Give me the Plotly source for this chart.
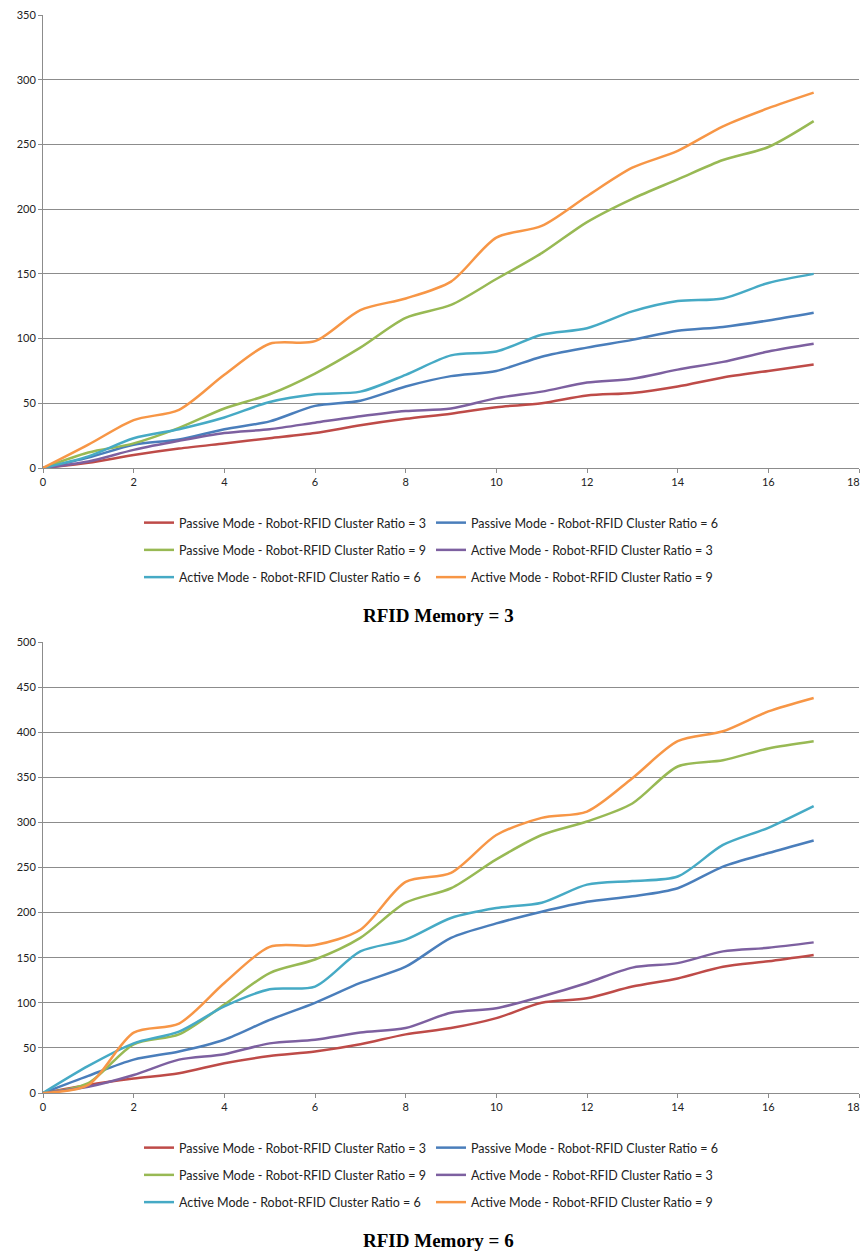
import plotly.graph_objects as go

# ---------------- data ----------------
x_vals = list(range(18))
x_tick_vals = [0, 2, 4, 6, 8, 10, 12, 14, 16, 18]
x_tick_text = ["0", "2", "4", "6", "8", "10", "12", "14", "16", "18&nbsp;&nbsp;&nbsp;&nbsp;"]

series_names = [
    "Passive Mode - Robot-RFID Cluster Ratio = 3",
    "Passive Mode - Robot-RFID Cluster Ratio = 6",
    "Passive Mode - Robot-RFID Cluster Ratio = 9",
    "Active Mode - Robot-RFID Cluster Ratio = 3",
    "Active Mode - Robot-RFID Cluster Ratio = 6",
    "Active Mode - Robot-RFID Cluster Ratio = 9",
]
series_colors = ["#BE4B48", "#4A7EBB", "#98B954", "#7D60A0", "#46AAC5", "#F79646"]

chart_titles = ["RFID Memory = 3", "RFID Memory = 6"]

# RFID Memory = 3
mem3_passive_3 = [0, 4, 10, 15, 19, 23, 27, 33, 38, 42, 47, 50, 56, 58, 63, 70, 75, 80]
mem3_passive_6 = [0, 8, 18, 22, 30, 36, 48, 52, 63, 71, 75, 86, 93, 99, 106, 109, 114, 120]
mem3_passive_9 = [0, 12, 19, 31, 46, 57, 73, 93, 116, 126, 146, 166, 190, 208, 223, 238, 248, 268]
mem3_active_3 = [0, 5, 14, 21, 27, 30, 35, 40, 44, 46, 54, 59, 66, 69, 76, 82, 90, 96]
mem3_active_6 = [0, 9, 23, 30, 39, 51, 57, 59, 72, 87, 90, 103, 108, 121, 129, 131, 143, 150]
mem3_active_9 = [0, 18, 37, 45, 72, 96, 98, 122, 131, 144, 178, 187, 210, 232, 245, 264, 278, 290]

# RFID Memory = 6
mem6_passive_3 = [0, 9, 16, 22, 33, 41, 46, 54, 65, 72, 83, 100, 105, 118, 127, 140, 146, 153]
mem6_passive_6 = [0, 19, 37, 46, 59, 81, 100, 122, 140, 172, 188, 201, 212, 218, 227, 251, 266, 280]
mem6_passive_9 = [0, 11, 54, 65, 98, 133, 148, 172, 211, 227, 259, 286, 301, 321, 362, 369, 382, 390]
mem6_active_3 = [0, 7, 20, 37, 43, 55, 59, 67, 72, 89, 94, 107, 122, 139, 144, 157, 161, 167]
mem6_active_6 = [0, 30, 55, 68, 96, 115, 118, 157, 170, 194, 205, 211, 231, 235, 240, 275, 294, 318]
mem6_active_9 = [0, 9, 67, 77, 122, 162, 164, 181, 234, 244, 286, 305, 312, 349, 390, 401, 423, 438]

charts = [
    [mem3_passive_3, mem3_passive_6, mem3_passive_9, mem3_active_3, mem3_active_6, mem3_active_9],
    [mem6_passive_3, mem6_passive_6, mem6_passive_9, mem6_active_3, mem6_active_6, mem6_active_9],
]
y_max = [350, 500]

# ---------------- layout helpers ----------------
PAGE_W, PAGE_H = 868, 1253
BODY_MARGIN = 8  # default page margin before the figure div
W, H = PAGE_W - BODY_MARGIN, PAGE_H - BODY_MARGIN

def px_x(p):  # page pixel -> paper x
    return (p - BODY_MARGIN) / W

def px_y(p):  # page pixel -> paper y
    return 1 - (p - BODY_MARGIN) / H

TICK_FONT = dict(family="Lato, Open Sans, sans-serif", size=11, color="#222222")
LEG_FONT = dict(family="Lato, Open Sans, sans-serif", size=12.5, color="#222222")
GRID = "#8C8C8C"

plot_left, plot_right = 43, 859
plot_rows = [(15, 468), (642, 1093)]
legend_tops = [508, 1133]
title_y = [615, 1240]

fig = go.Figure()

for c, data in enumerate(charts):
    xa = "x" if c == 0 else "x2"
    ya = "y" if c == 0 else "y2"
    for i, vals in enumerate(data):
        leg_idx = 2 * c + (i % 2) + 1
        leg = "legend" if leg_idx == 1 else f"legend{leg_idx}"
        fig.add_trace(go.Scatter(
            x=x_vals, y=vals, mode="lines", name=series_names[i],
            line=dict(color=series_colors[i], width=2.5, shape="spline", smoothing=0.8),
            xaxis=xa, yaxis=ya, legend=leg, legendgroup=f"c{c}s{i}",
            showlegend=True,
        ))

axis_common_x = dict(
    range=[0, 18], tickmode="array", tickvals=x_tick_vals, ticktext=x_tick_text,
    showgrid=False, zeroline=False,
    showline=True, linecolor=GRID, linewidth=1, ticks="outside", ticklen=4,
    tickcolor=GRID, tickfont=TICK_FONT, fixedrange=True, automargin=False,
    ticklabeloverflow="allow",
)
axis_common_y = dict(
    dtick=50, tick0=0, showgrid=True, gridcolor=GRID, gridwidth=1, zeroline=False,
    showline=True, linecolor=GRID, linewidth=1, ticks="outside", ticklen=4,
    tickcolor=GRID, tickfont=TICK_FONT, fixedrange=True, automargin=False,
    ticklabeloverflow="allow",
)

layout = dict(
    width=W, height=H, margin=dict(l=0, r=0, t=0, b=0, autoexpand=False),
    paper_bgcolor="white", plot_bgcolor="white",
    xaxis=dict(domain=[px_x(plot_left), px_x(plot_right)], anchor="y", **axis_common_x),
    yaxis=dict(domain=[px_y(plot_rows[0][1]), px_y(plot_rows[0][0])], anchor="x",
               range=[0, y_max[0]], **axis_common_y),
    xaxis2=dict(domain=[px_x(plot_left), px_x(plot_right)], anchor="y2", **axis_common_x),
    yaxis2=dict(domain=[px_y(plot_rows[1][1]), px_y(plot_rows[1][0])], anchor="x2",
                range=[0, y_max[1]], **axis_common_y),
    showlegend=True,
)

leg_x = [139, 431]
for c in range(2):
    for k in range(2):
        idx = 2 * c + k + 1
        key = "legend" if idx == 1 else f"legend{idx}"
        layout[key] = dict(
            x=px_x(leg_x[k]), y=px_y(legend_tops[c]), xanchor="left", yanchor="top",
            orientation="v", font=LEG_FONT, bgcolor="rgba(0,0,0,0)",
            traceorder="grouped", tracegroupgap=8, itemwidth=30,
        )

fig.update_layout(**layout)

for c in range(2):
    fig.add_annotation(
        text="<b>" + chart_titles[c] + "</b>", xref="paper", yref="paper",
        x=px_x(438), y=px_y(title_y[c]), xanchor="center", yanchor="middle",
        showarrow=False,
        font=dict(family="Liberation Serif, Times New Roman, serif", size=19, color="#000000"),
    )

fig.write_html("out.html", default_width=f"{W}px", default_height=f"{H}px")
